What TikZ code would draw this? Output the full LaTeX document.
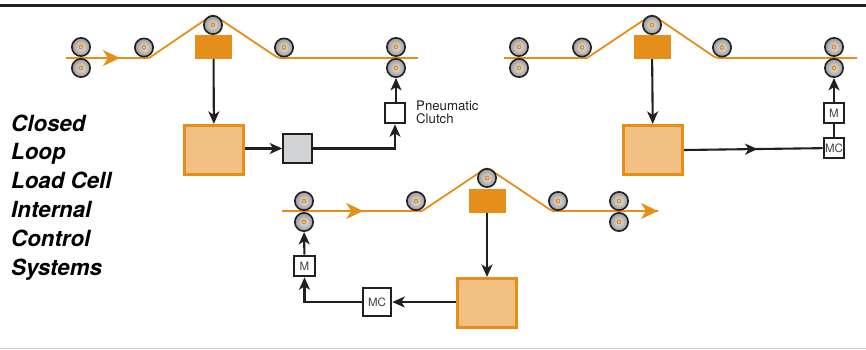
\documentclass[tikz,border=0pt]{standalone}
\usepackage{fontspec}
\setmainfont{TeX Gyre Heros}
\usetikzlibrary{arrows.meta,decorations.markings}
\definecolor{web}{HTML}{E58E1A}
\definecolor{cellfill}{HTML}{F2C083}
\definecolor{ink}{HTML}{231F20}
\definecolor{graybox}{HTML}{D1D3D4}
\tikzset{
 x=1pt,y=-1pt,
 blackarrow/.style={ink,line width=2.1pt,-{Stealth[length=12.5pt,width=11pt,inset=3.5pt]}},
 blackline/.style={ink,line width=2.1pt},
 webline/.style={web,line width=1.8pt,line join=round,rounded corners=3pt},
 webarrow/.style={web,line width=1.8pt,postaction={decorate},decoration={markings,mark=at position #1 with {\arrow{Stealth[length=17pt,width=16pt,inset=5pt]}}}},
 roller/.style={circle,draw=ink,line width=1.6pt,minimum size=18.3pt,inner sep=0pt,inner color=gray!20,outer color=gray!80,
   path picture={\fill[web] (path picture bounding box.center) circle (2.4pt);\fill[gray!25] (path picture bounding box.center) circle (1pt);}},
 block/.style={fill=web,inner sep=0pt,minimum width=37pt,minimum height=24pt},
 cell/.style={draw=web,fill=cellfill,line width=3.2pt,inner sep=0pt,minimum width=59pt,minimum height=49pt},
 ctrl/.style={draw=ink,fill=white,line width=2.1pt,inner sep=0pt,minimum width=20.5pt,minimum height=20.5pt,text=ink!85,font=\fontsize{11.5}{11.5}\selectfont},
 bigctrl/.style={ctrl,minimum width=28.5pt,minimum height=28.5pt},
 title/.style={anchor=base west,inner sep=0pt,font=\fontsize{22.3}{22.3}\selectfont\bfseries\itshape,text=black},
 note/.style={anchor=base west,inner sep=0pt,font=\fontsize{13.2}{13.2}\selectfont,text=ink},
}
\begin{document}
\begin{tikzpicture}
\useasboundingbox (0,0) rectangle (866,349);
\coordinate (rt0) at (0,5); \coordinate (rt1) at (866,5);
\draw[ink,line width=3pt] (rt0) -- (rt1);
\coordinate (rb0) at (0,348); \coordinate (rb1) at (866,348);
\draw[gray!40,line width=1pt] (rb0) -- (rb1);

% --- System A
\coordinate (a0) at (66,58); \coordinate (a1) at (149,58); \coordinate (ap) at (213,14.5);
\coordinate (a2) at (278,58); \coordinate (a3) at (418,58);
\node[block] (ablock) at (213.5,47) {};
\draw[webarrow=0.65] (a0) -- (a1);
\draw[webline] (a1) -- (ap) -- (a2) -- (a3);
\node[roller] (an1) at (81,47) {};
\node[roller] (an2) at (81,68) {};
\node[roller] (ar1) at (144,47.5) {};
\node[roller] (ar2) at (213,25) {};
\node[roller] (ar3) at (284,47.5) {};
\node[roller] (ar4) at (396,47) {};
\node[roller] (ar5) at (396,68) {};
\node[cell] (acell) at (214,150) {};
\node[bigctrl,fill=graybox] (agray) at (297.5,148.5) {};
\node[ctrl] (aclutch) at (395,113) {};
\draw[blackarrow] (ablock) -- (acell);
\draw[blackarrow] (acell.east |- agray) -- (agray);
\draw[blackarrow] (agray) -| (aclutch);
\draw[blackarrow] (aclutch.north -| ar5) -- (ar5);
\node[note] at (416,110) {Pneumatic};
\node[note] at (416,123) {Clutch};

% --- System B
\coordinate (b0) at (504,58); \coordinate (b1) at (587,58); \coordinate (bp) at (652,14.5);
\coordinate (b2) at (716,58); \coordinate (b3) at (857,58);
\node[block] (bblock) at (652,47) {};
\draw[web,line width=1.8pt] (b0) -- (b1);
\draw[webline] (b1) -- (bp) -- (b2) -- (b3);
\node[roller] (bn1) at (519,47) {};
\node[roller] (bn2) at (519,68) {};
\node[roller] (br1) at (582,47.5) {};
\node[roller] (br2) at (652,25) {};
\node[roller] (br3) at (722,47.5) {};
\node[roller] (br4) at (834,47) {};
\node[roller] (br5) at (834,68) {};
\node[cell] (bcell) at (653,150) {};
\node[ctrl] (bmc) at (834,148) {MC};
\node[ctrl] (bm) at (834,113) {M};
\draw[blackarrow] (bblock) -- (bcell);
\draw[blackline,postaction={decorate},decoration={markings,mark=at position 0.53 with {\arrow{Stealth[length=12.5pt,width=11pt,inset=3.5pt]}}}] (bcell.east) -- (bmc);
\draw[blackline] (bmc) -- (bm);
\draw[blackarrow] (bm) -- (br5);

% --- System C
\coordinate (c0) at (282,211); \coordinate (c1) at (422,211); \coordinate (cp) at (487,167.5);
\coordinate (c2) at (552,211); \coordinate (c3) at (658,211);
\node[block] (cblock) at (487,200.5) {};
\draw[webarrow=0.58] (c0) -- (c1);
\draw[webline] (c1) -- (cp) -- (c2) -- (c3);
\draw[web,-{Stealth[length=17pt,width=16pt,inset=5pt]},line width=1.8pt] (c2) -- (c3);
\node[roller] (cn1) at (304,201) {};
\node[roller] (cn2) at (304,222) {};
\node[roller] (cr1) at (416,201) {};
\node[roller] (cr2) at (487,178) {};
\node[roller] (cr3) at (558,201) {};
\node[roller] (cr4) at (619,201) {};
\node[roller] (cr5) at (619,222) {};
\node[cell] (ccell) at (487,303) {};
\node[bigctrl] (cmc) at (377,302) {MC};
\node[ctrl] (cm) at (304.5,266) {M};
\draw[blackarrow] (cblock) -- (ccell);
\draw[blackarrow] (ccell.west |- cmc) -- (cmc);
\draw[blackarrow] (cmc) -| (cm);
\draw[blackarrow] (cm) -- (cn2);

% --- Title
\node[title] (t1) at (11,131) {Closed};
\node[title] (t2) at (11,159) {Loop};
\node[title] (t3) at (11,188) {Load Cell};
\node[title] (t4) at (11,217) {Internal};
\node[title] (t5) at (11,246) {Control};
\node[title] (t6) at (11,275) {Systems};
\end{tikzpicture}
\end{document}
